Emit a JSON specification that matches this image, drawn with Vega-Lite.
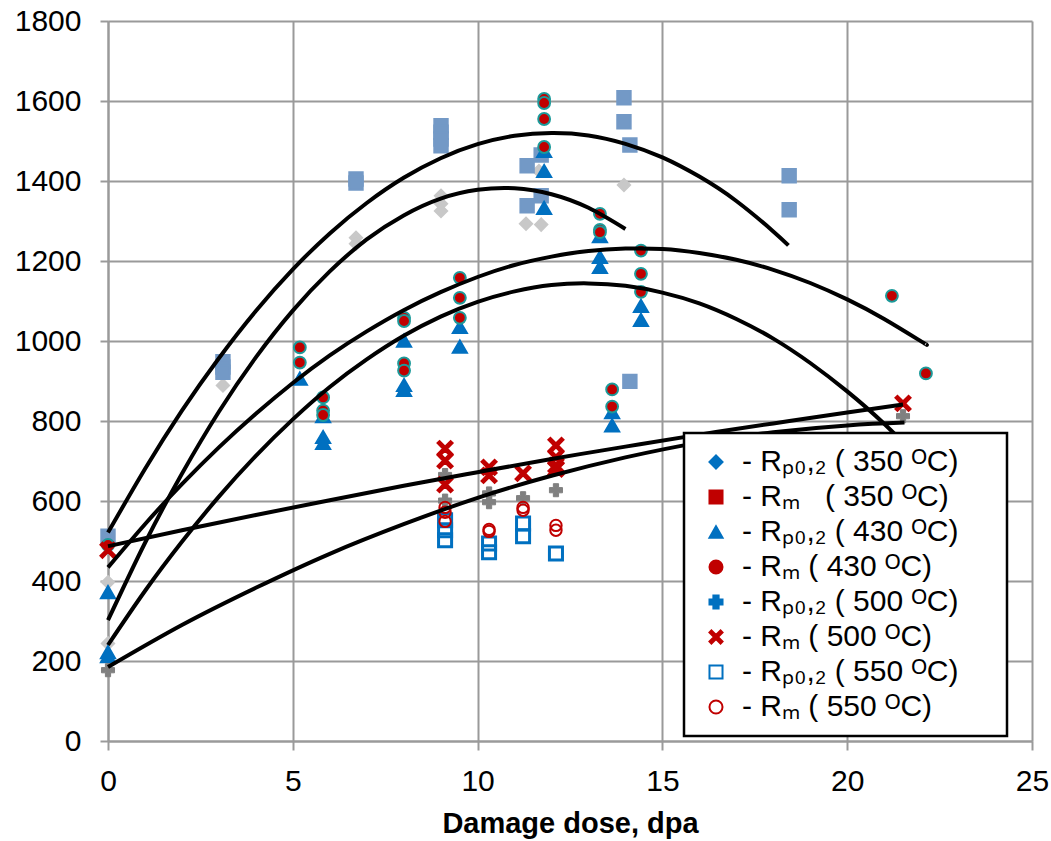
{
  "$schema": "https://vega.github.io/schema/vega-lite/v6.json",
  "width": 924,
  "height": 720,
  "autosize": {"type": "none"},
  "padding": {"left": 108, "top": 21, "right": 19, "bottom": 100},
  "background": "white",
  "config": {
    "view": {"stroke": null},
    "font": "Liberation Sans",
    "legend": {"strokeWidth": 2.5}
  },
  "datasets": {
    "points": [
      {"series": "Rp 350", "dose": 0, "stress": 397},
      {"series": "Rp 350", "dose": 0, "stress": 244},
      {"series": "Rp 350", "dose": 3.11, "stress": 889},
      {"series": "Rp 350", "dose": 6.71, "stress": 1258},
      {"series": "Rp 350", "dose": 6.71, "stress": 1243},
      {"series": "Rp 350", "dose": 9.01, "stress": 1363},
      {"series": "Rp 350", "dose": 9.01, "stress": 1343},
      {"series": "Rp 350", "dose": 9.01, "stress": 1325},
      {"series": "Rp 350", "dose": 11.31, "stress": 1293},
      {"series": "Rp 350", "dose": 11.72, "stress": 1291},
      {"series": "Rp 350", "dose": 11.66, "stress": 1425},
      {"series": "Rp 350", "dose": 13.96, "stress": 1390},
      {"series": "Rm 350", "dose": 0, "stress": 512},
      {"series": "Rm 350", "dose": 3.11, "stress": 948},
      {"series": "Rm 350", "dose": 3.11, "stress": 935},
      {"series": "Rm 350", "dose": 3.11, "stress": 922},
      {"series": "Rm 350", "dose": 6.71, "stress": 1405},
      {"series": "Rm 350", "dose": 6.71, "stress": 1395},
      {"series": "Rm 350", "dose": 9.01, "stress": 1538},
      {"series": "Rm 350", "dose": 9.01, "stress": 1522},
      {"series": "Rm 350", "dose": 9.01, "stress": 1505},
      {"series": "Rm 350", "dose": 9.01, "stress": 1488},
      {"series": "Rm 350", "dose": 11.34, "stress": 1438},
      {"series": "Rm 350", "dose": 11.34, "stress": 1338},
      {"series": "Rm 350", "dose": 11.72, "stress": 1465},
      {"series": "Rm 350", "dose": 11.72, "stress": 1363},
      {"series": "Rm 350", "dose": 13.96, "stress": 1608},
      {"series": "Rm 350", "dose": 13.96, "stress": 1548},
      {"series": "Rm 350", "dose": 14.12, "stress": 1490},
      {"series": "Rm 350", "dose": 18.43, "stress": 1413},
      {"series": "Rm 350", "dose": 18.43, "stress": 1328},
      {"series": "Rm 350", "dose": 14.12, "stress": 899},
      {"series": "Rp 430", "dose": 0, "stress": 372},
      {"series": "Rp 430", "dose": 0, "stress": 222},
      {"series": "Rp 430", "dose": 0, "stress": 212},
      {"series": "Rp 430", "dose": 5.19, "stress": 906},
      {"series": "Rp 430", "dose": 5.82, "stress": 812},
      {"series": "Rp 430", "dose": 5.82, "stress": 760},
      {"series": "Rp 430", "dose": 5.82, "stress": 745},
      {"series": "Rp 430", "dose": 8.01, "stress": 1001},
      {"series": "Rp 430", "dose": 8.01, "stress": 890},
      {"series": "Rp 430", "dose": 8.01, "stress": 878},
      {"series": "Rp 430", "dose": 9.52, "stress": 1035},
      {"series": "Rp 430", "dose": 9.52, "stress": 986},
      {"series": "Rp 430", "dose": 11.8, "stress": 1475},
      {"series": "Rp 430", "dose": 11.8, "stress": 1425},
      {"series": "Rp 430", "dose": 11.8, "stress": 1333},
      {"series": "Rp 430", "dose": 13.31, "stress": 1262},
      {"series": "Rp 430", "dose": 13.31, "stress": 1210},
      {"series": "Rp 430", "dose": 13.31, "stress": 1185},
      {"series": "Rp 430", "dose": 14.42, "stress": 1088},
      {"series": "Rp 430", "dose": 14.42, "stress": 1053},
      {"series": "Rp 430", "dose": 13.64, "stress": 822},
      {"series": "Rp 430", "dose": 13.64, "stress": 789},
      {"series": "Rm 430", "dose": 0, "stress": 490},
      {"series": "Rm 430", "dose": 5.19, "stress": 984},
      {"series": "Rm 430", "dose": 5.19, "stress": 946},
      {"series": "Rm 430", "dose": 5.82, "stress": 859},
      {"series": "Rm 430", "dose": 5.82, "stress": 826},
      {"series": "Rm 430", "dose": 5.82, "stress": 815},
      {"series": "Rm 430", "dose": 8.01, "stress": 1058},
      {"series": "Rm 430", "dose": 8.01, "stress": 1050},
      {"series": "Rm 430", "dose": 8.01, "stress": 944},
      {"series": "Rm 430", "dose": 8.01, "stress": 926},
      {"series": "Rm 430", "dose": 9.52, "stress": 1158},
      {"series": "Rm 430", "dose": 9.52, "stress": 1108},
      {"series": "Rm 430", "dose": 9.52, "stress": 1058},
      {"series": "Rm 430", "dose": 11.8, "stress": 1605},
      {"series": "Rm 430", "dose": 11.8, "stress": 1595},
      {"series": "Rm 430", "dose": 11.8, "stress": 1555},
      {"series": "Rm 430", "dose": 11.8, "stress": 1485},
      {"series": "Rm 430", "dose": 13.31, "stress": 1318},
      {"series": "Rm 430", "dose": 13.31, "stress": 1278},
      {"series": "Rm 430", "dose": 13.31, "stress": 1272},
      {"series": "Rm 430", "dose": 14.42, "stress": 1226},
      {"series": "Rm 430", "dose": 14.42, "stress": 1168},
      {"series": "Rm 430", "dose": 14.42, "stress": 1123},
      {"series": "Rm 430", "dose": 13.64, "stress": 879},
      {"series": "Rm 430", "dose": 13.64, "stress": 836},
      {"series": "Rm 430", "dose": 21.21, "stress": 1113},
      {"series": "Rm 430", "dose": 22.13, "stress": 919},
      {"series": "Rp 500", "dose": 0, "stress": 177},
      {"series": "Rp 500", "dose": 9.12, "stress": 665},
      {"series": "Rp 500", "dose": 9.12, "stress": 601},
      {"series": "Rp 500", "dose": 10.31, "stress": 619},
      {"series": "Rp 500", "dose": 10.31, "stress": 597},
      {"series": "Rp 500", "dose": 11.23, "stress": 607},
      {"series": "Rp 500", "dose": 12.12, "stress": 627},
      {"series": "Rp 500", "dose": 21.51, "stress": 812},
      {"series": "Rm 500", "dose": 0, "stress": 477},
      {"series": "Rm 500", "dose": 9.12, "stress": 731},
      {"series": "Rm 500", "dose": 9.12, "stress": 701},
      {"series": "Rm 500", "dose": 9.12, "stress": 641},
      {"series": "Rm 500", "dose": 10.31, "stress": 684},
      {"series": "Rm 500", "dose": 10.31, "stress": 664},
      {"series": "Rm 500", "dose": 11.23, "stress": 669},
      {"series": "Rm 500", "dose": 12.12, "stress": 739},
      {"series": "Rm 500", "dose": 12.12, "stress": 709},
      {"series": "Rm 500", "dose": 12.12, "stress": 689},
      {"series": "Rm 500", "dose": 12.12, "stress": 680},
      {"series": "Rm 500", "dose": 21.51, "stress": 844},
      {"series": "Rp 550", "dose": 9.12, "stress": 552},
      {"series": "Rp 550", "dose": 9.12, "stress": 527},
      {"series": "Rp 550", "dose": 9.12, "stress": 502},
      {"series": "Rp 550", "dose": 10.31, "stress": 494},
      {"series": "Rp 550", "dose": 10.31, "stress": 472},
      {"series": "Rp 550", "dose": 11.23, "stress": 544},
      {"series": "Rp 550", "dose": 11.23, "stress": 512},
      {"series": "Rp 550", "dose": 12.12, "stress": 469},
      {"series": "Rm 550", "dose": 9.12, "stress": 584},
      {"series": "Rm 550", "dose": 9.12, "stress": 572},
      {"series": "Rm 550", "dose": 9.12, "stress": 549},
      {"series": "Rm 550", "dose": 10.31, "stress": 529},
      {"series": "Rm 550", "dose": 10.31, "stress": 524},
      {"series": "Rm 550", "dose": 11.23, "stress": 584},
      {"series": "Rm 550", "dose": 11.23, "stress": 577},
      {"series": "Rm 550", "dose": 12.12, "stress": 539},
      {"series": "Rm 550", "dose": 12.12, "stress": 527}
    ],
    "curves": [
      {"curve": "A", "dose": 0, "stress": 521},
      {"curve": "A", "dose": 1, "stress": 680},
      {"curve": "A", "dose": 2, "stress": 826},
      {"curve": "A", "dose": 3, "stress": 957},
      {"curve": "A", "dose": 4, "stress": 1075},
      {"curve": "A", "dose": 5, "stress": 1179},
      {"curve": "A", "dose": 6, "stress": 1269},
      {"curve": "A", "dose": 7, "stress": 1345},
      {"curve": "A", "dose": 8, "stress": 1408},
      {"curve": "A", "dose": 9, "stress": 1457},
      {"curve": "A", "dose": 10, "stress": 1492},
      {"curve": "A", "dose": 11, "stress": 1513},
      {"curve": "A", "dose": 12, "stress": 1520},
      {"curve": "A", "dose": 13, "stress": 1514},
      {"curve": "A", "dose": 14, "stress": 1493},
      {"curve": "A", "dose": 15, "stress": 1459},
      {"curve": "A", "dose": 16, "stress": 1411},
      {"curve": "A", "dose": 17, "stress": 1350},
      {"curve": "A", "dose": 18, "stress": 1274},
      {"curve": "A", "dose": 18.41, "stress": 1239},
      {"curve": "B", "dose": 0, "stress": 302},
      {"curve": "B", "dose": 1, "stress": 495},
      {"curve": "B", "dose": 2, "stress": 668},
      {"curve": "B", "dose": 3, "stress": 823},
      {"curve": "B", "dose": 4, "stress": 959},
      {"curve": "B", "dose": 5, "stress": 1076},
      {"curve": "B", "dose": 6, "stress": 1174},
      {"curve": "B", "dose": 7, "stress": 1254},
      {"curve": "B", "dose": 8, "stress": 1314},
      {"curve": "B", "dose": 9, "stress": 1356},
      {"curve": "B", "dose": 10, "stress": 1378},
      {"curve": "B", "dose": 11, "stress": 1382},
      {"curve": "B", "dose": 12, "stress": 1367},
      {"curve": "B", "dose": 13, "stress": 1333},
      {"curve": "B", "dose": 14, "stress": 1280},
      {"curve": "C", "dose": 0, "stress": 434},
      {"curve": "C", "dose": 1, "stress": 542},
      {"curve": "C", "dose": 2, "stress": 642},
      {"curve": "C", "dose": 3, "stress": 734},
      {"curve": "C", "dose": 4, "stress": 818},
      {"curve": "C", "dose": 5, "stress": 895},
      {"curve": "C", "dose": 6, "stress": 964},
      {"curve": "C", "dose": 7, "stress": 1024},
      {"curve": "C", "dose": 8, "stress": 1077},
      {"curve": "C", "dose": 9, "stress": 1122},
      {"curve": "C", "dose": 10, "stress": 1160},
      {"curve": "C", "dose": 11, "stress": 1190},
      {"curve": "C", "dose": 12, "stress": 1211},
      {"curve": "C", "dose": 13, "stress": 1225},
      {"curve": "C", "dose": 14, "stress": 1231},
      {"curve": "C", "dose": 15, "stress": 1230},
      {"curve": "C", "dose": 16, "stress": 1220},
      {"curve": "C", "dose": 17, "stress": 1203},
      {"curve": "C", "dose": 18, "stress": 1178},
      {"curve": "C", "dose": 19, "stress": 1145},
      {"curve": "C", "dose": 20, "stress": 1104},
      {"curve": "C", "dose": 21, "stress": 1055},
      {"curve": "C", "dose": 22, "stress": 999},
      {"curve": "C", "dose": 22.13, "stress": 992},
      {"curve": "D", "dose": 0, "stress": 240},
      {"curve": "D", "dose": 1, "stress": 375},
      {"curve": "D", "dose": 2, "stress": 498},
      {"curve": "D", "dose": 3, "stress": 611},
      {"curve": "D", "dose": 4, "stress": 713},
      {"curve": "D", "dose": 5, "stress": 804},
      {"curve": "D", "dose": 6, "stress": 885},
      {"curve": "D", "dose": 7, "stress": 954},
      {"curve": "D", "dose": 8, "stress": 1013},
      {"curve": "D", "dose": 9, "stress": 1061},
      {"curve": "D", "dose": 10, "stress": 1098},
      {"curve": "D", "dose": 11, "stress": 1124},
      {"curve": "D", "dose": 12, "stress": 1140},
      {"curve": "D", "dose": 13, "stress": 1144},
      {"curve": "D", "dose": 14, "stress": 1138},
      {"curve": "D", "dose": 15, "stress": 1121},
      {"curve": "D", "dose": 16, "stress": 1094},
      {"curve": "D", "dose": 17, "stress": 1055},
      {"curve": "D", "dose": 18, "stress": 1006},
      {"curve": "D", "dose": 19, "stress": 945},
      {"curve": "D", "dose": 20, "stress": 874},
      {"curve": "D", "dose": 21, "stress": 793},
      {"curve": "D", "dose": 22, "stress": 700},
      {"curve": "E", "dose": 0, "stress": 487},
      {"curve": "E", "dose": 2, "stress": 527},
      {"curve": "E", "dose": 4, "stress": 565},
      {"curve": "E", "dose": 6, "stress": 602},
      {"curve": "E", "dose": 8, "stress": 638},
      {"curve": "E", "dose": 10, "stress": 672},
      {"curve": "E", "dose": 12, "stress": 705},
      {"curve": "E", "dose": 14, "stress": 736},
      {"curve": "E", "dose": 16, "stress": 766},
      {"curve": "E", "dose": 18, "stress": 794},
      {"curve": "E", "dose": 20, "stress": 821},
      {"curve": "E", "dose": 21.51, "stress": 841},
      {"curve": "F", "dose": 0, "stress": 185},
      {"curve": "F", "dose": 2, "stress": 290},
      {"curve": "F", "dose": 4, "stress": 383},
      {"curve": "F", "dose": 6, "stress": 468},
      {"curve": "F", "dose": 8, "stress": 542},
      {"curve": "F", "dose": 10, "stress": 608},
      {"curve": "F", "dose": 12, "stress": 663},
      {"curve": "F", "dose": 14, "stress": 709},
      {"curve": "F", "dose": 16, "stress": 746},
      {"curve": "F", "dose": 18, "stress": 772},
      {"curve": "F", "dose": 20, "stress": 789},
      {"curve": "F", "dose": 21.55, "stress": 796}
    ]
  },
  "layer": [
    {
      "data": {"name": "points"},
      "mark": {"type": "point", "filled": true, "opacity": 0, "strokeWidth": 2},
      "encoding": {
        "x": {
          "field": "dose", "type": "quantitative",
          "scale": {"domain": [0, 25], "nice": false, "zero": false},
          "axis": {
            "values": [0, 5, 10, 15, 20, 25],
            "title": "Damage dose, dpa",
            "titleFont": "Liberation Sans", "titleFontSize": 29, "titleFontWeight": "bold", "titleColor": "black", "titlePadding": 13,
            "labelFont": "Liberation Sans", "labelFontSize": 30, "labelColor": "black", "labelPadding": 16, "labelFlush": false, "labelOverlap": false,
            "tickSize": 9, "tickColor": "#9a9a9a", "tickWidth": 2,
            "domainColor": "#9a9a9a", "domainWidth": 2,
            "grid": true, "gridColor": "#9a9a9a", "gridWidth": 2
          }
        },
        "y": {
          "field": "stress", "type": "quantitative",
          "scale": {"domain": [0, 1800], "nice": false},
          "axis": {
            "values": [0, 200, 400, 600, 800, 1000, 1200, 1400, 1600, 1800],
            "format": "d",
            "title": null,
            "labelFont": "Liberation Sans", "labelFontSize": 30, "labelColor": "black", "labelPadding": 19, "labelFlush": false, "labelOverlap": false,
            "tickSize": 8, "tickColor": "#9a9a9a", "tickWidth": 2,
            "domainColor": "#9a9a9a", "domainWidth": 2,
            "grid": true, "gridColor": "#9a9a9a", "gridWidth": 2
          }
        },
        "shape": {
          "field": "series", "type": "nominal",
          "scale": {
            "domain": ["Rp 350", "Rm 350", "Rp 430", "Rm 430", "Rp 500", "Rm 500", "Rp 550", "Rm 550"],
            "range": ["diamond", "square", "triangle-up", "circle", "cross", "M-1,-0.7L-0.7,-1L0,-0.3L0.7,-1L1,-0.7L0.3,0L1,0.7L0.7,1L0,0.3L-0.7,1L-1,0.7L-0.3,0Z", "square", "circle"]
          },
          "legend": {
            "orient": "none", "legendX": 576, "legendY": 412,
            "title": "MMM", "titleOrient": "right", "titleFontSize": 12, "titlePadding": 5, "titleColor": "white",
            "fillColor": "white", "strokeColor": "black",
            "padding": 14, "rowPadding": 5, "symbolOffset": 3, "labelOffset": 11,
            "labelFont": "Liberation Sans", "labelFontSize": 30, "labelColor": "black", "labelLimit": 600,
            "symbolSize": 170, "symbolStrokeWidth": 2, "symbolOpacity": 1,
            "labelExpr": "datum.label == 'Rp 350' ? '- Rₚ₀,₂ ( 350 ᴼC)' : datum.label == 'Rm 350' ? '- Rₘ\u00a0\u00a0\u00a0( 350 ᴼC)' : datum.label == 'Rp 430' ? '- Rₚ₀,₂ ( 430 ᴼC)' : datum.label == 'Rm 430' ? '- Rₘ ( 430 ᴼC)' : datum.label == 'Rp 500' ? '- Rₚ₀,₂ ( 500 ᴼC)' : datum.label == 'Rm 500' ? '- Rₘ ( 500 ᴼC)' : datum.label == 'Rp 550' ? '- Rₚ₀,₂ ( 550 ᴼC)' : '- Rₘ ( 550 ᴼC)'"
          }
        },
        "fill": {
          "field": "series", "type": "nominal",
          "scale": {
            "domain": ["Rp 350", "Rm 350", "Rp 430", "Rm 430", "Rp 500", "Rm 500", "Rp 550", "Rm 550"],
            "range": ["#0070C0", "#C00000", "#0070C0", "#C00000", "#0070C0", "#C00000", "transparent", "transparent"]
          },
          "legend": {"title": "MMM"}
        },
        "stroke": {
          "field": "series", "type": "nominal",
          "scale": {
            "domain": ["Rp 350", "Rm 350", "Rp 430", "Rm 430", "Rp 500", "Rm 500", "Rp 550", "Rm 550"],
            "range": ["#0070C0", "#C00000", "#0070C0", "#C00000", "#0070C0", "#C00000", "#0070C0", "#C00000"]
          },
          "legend": {"title": "MMM"}
        }
      }
    },
    {
      "data": {"name": "points"},
      "transform": [{"filter": "datum.series == 'Rp 350'"}],
      "mark": {"type": "point", "shape": "diamond", "filled": true, "fill": "#C8C8C8", "stroke": "#C8C8C8", "strokeWidth": 2, "size": 150, "opacity": 1},
      "encoding": {"x": {"field": "dose", "type": "quantitative"}, "y": {"field": "stress", "type": "quantitative"}}
    },
    {
      "data": {"name": "points"},
      "transform": [{"filter": "datum.series == 'Rm 350'"}],
      "mark": {"type": "point", "shape": "square", "filled": true, "fill": "#7399C6", "stroke": "#7399C6", "strokeWidth": 2, "size": 180, "opacity": 1},
      "encoding": {"x": {"field": "dose", "type": "quantitative"}, "y": {"field": "stress", "type": "quantitative"}}
    },
    {
      "data": {"name": "points"},
      "transform": [{"filter": "datum.series == 'Rp 430'"}],
      "mark": {"type": "point", "shape": "triangle-up", "filled": true, "fill": "#0070C0", "stroke": "#0070C0", "strokeWidth": 2, "size": 200, "opacity": 1},
      "encoding": {"x": {"field": "dose", "type": "quantitative"}, "y": {"field": "stress", "type": "quantitative"}}
    },
    {
      "data": {"name": "points"},
      "transform": [{"filter": "datum.series == 'Rm 430'"}],
      "mark": {"type": "point", "shape": "circle", "filled": true, "fill": "#C00000", "stroke": "#1B9A9A", "strokeWidth": 2, "size": 140, "opacity": 1},
      "encoding": {"x": {"field": "dose", "type": "quantitative"}, "y": {"field": "stress", "type": "quantitative"}}
    },
    {
      "data": {"name": "points"},
      "transform": [{"filter": "datum.series == 'Rp 500'"}],
      "mark": {"type": "point", "shape": "cross", "filled": true, "fill": "#808080", "stroke": "#808080", "strokeWidth": 1, "size": 170, "opacity": 1},
      "encoding": {"x": {"field": "dose", "type": "quantitative"}, "y": {"field": "stress", "type": "quantitative"}}
    },
    {
      "data": {"name": "points"},
      "transform": [{"filter": "datum.series == 'Rm 500'"}],
      "mark": {"type": "point", "shape": "M-1,-0.7L-0.7,-1L0,-0.3L0.7,-1L1,-0.7L0.3,0L1,0.7L0.7,1L0,0.3L-0.7,1L-1,0.7L-0.3,0Z", "filled": true, "fill": "#C00000", "stroke": "#C00000", "strokeWidth": 1.5, "size": 250, "opacity": 1},
      "encoding": {"x": {"field": "dose", "type": "quantitative"}, "y": {"field": "stress", "type": "quantitative"}}
    },
    {
      "data": {"name": "points"},
      "transform": [{"filter": "datum.series == 'Rp 550'"}],
      "mark": {"type": "point", "shape": "square", "filled": false, "fill": "transparent", "stroke": "#0070C0", "strokeWidth": 3, "size": 170, "opacity": 1},
      "encoding": {"x": {"field": "dose", "type": "quantitative"}, "y": {"field": "stress", "type": "quantitative"}}
    },
    {
      "data": {"name": "points"},
      "transform": [{"filter": "datum.series == 'Rm 550'"}],
      "mark": {"type": "point", "shape": "circle", "filled": false, "fill": "transparent", "stroke": "#C00000", "strokeWidth": 2, "size": 130, "opacity": 1},
      "encoding": {"x": {"field": "dose", "type": "quantitative"}, "y": {"field": "stress", "type": "quantitative"}}
    },
    {
      "data": {"name": "curves"},
      "mark": {"type": "line", "color": "black", "strokeWidth": 4, "interpolate": "natural"},
      "encoding": {
        "x": {"field": "dose", "type": "quantitative"},
        "y": {"field": "stress", "type": "quantitative"},
        "detail": {"field": "curve", "type": "nominal"}
      }
    }
  ]
}
